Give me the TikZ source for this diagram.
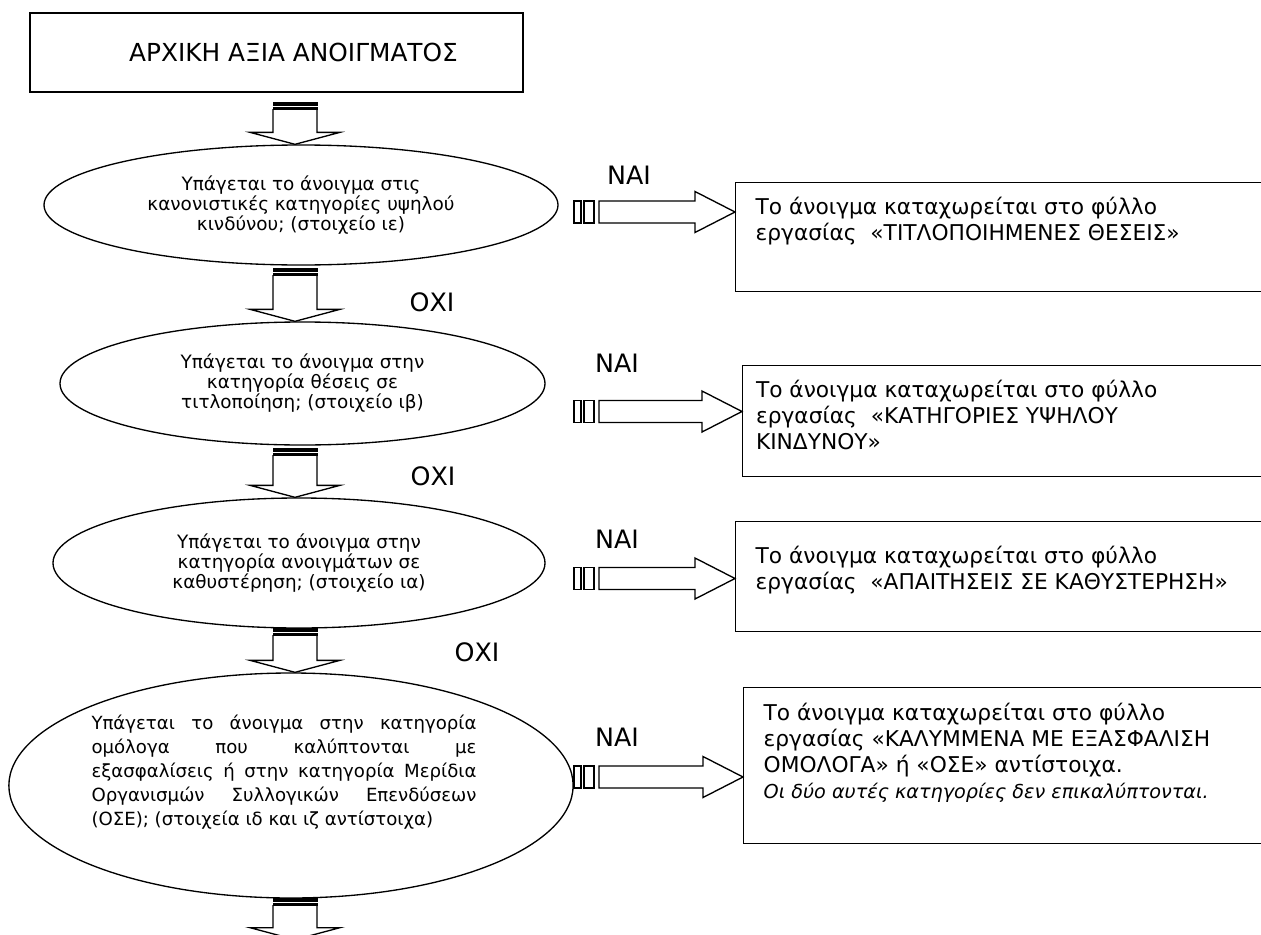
\documentclass[tikz,border=0pt]{standalone}
\usepackage{fontspec}
\setmainfont{DejaVu Sans}[ItalicFont={DejaVu Sans Oblique}]
\usetikzlibrary{calc,shapes.geometric}

\newcommand{\titlefont}{\fontsize{18.6}{22}\selectfont}
\newcommand{\tagfont}{\fontsize{19}{22}\selectfont}
\newcommand{\askfont}{\fontsize{13.8}{15}\selectfont}
\newcommand{\bigaskfont}{\fontsize{13.6}{18}\selectfont\hyphenpenalty=10000}
\newcommand{\boxfont}{\fontsize{16.3}{19.5}\selectfont}

% striped block arrow pointing down: #1 top of stem, #2 tip
\newcommand{\downblock}[2]{%
  \draw[blockline] ($(#1)+(-22,6.5)$) -- ($(#2)+(-22,-12)$) -- ($(#2)+(-45,-12)$) -- (#2)
    -- ($(#2)+(45,-12)$) -- ($(#2)+(22,-12)$) -- ($(#1)+(22,6.5)$);
  \filldraw[blockline,fill=black,line width=0.4pt] ($(#1)+(-22,0)$) rectangle ($(#1)+(22,3)$);
  \filldraw[blockline,fill=black,line width=0.4pt] ($(#1)+(-22,4.6)$) rectangle ($(#1)+(22,6.5)$);
}
% striped block arrow pointing right: #1 tail (centre line), #2 tip
\newcommand{\rightblock}[2]{%
  \draw[blockline] ($(#1)+(0,-11)$) rectangle ($(#1)+(7,11)$);
  \draw[blockline] ($(#1)+(10,-11)$) rectangle ($(#1)+(20,11)$);
  \draw[blockline] ($(#1)+(25,-11)$) -- ($(#2)+(-40,-11)$) -- ($(#2)+(-40,-20.5)$) -- (#2)
    -- ($(#2)+(-40,20.5)$) -- ($(#2)+(-40,11)$) -- ($(#1)+(25,11)$) -- cycle;
}

\begin{document}
\begin{tikzpicture}[x=0.75pt,y=-0.75pt,
    blockline/.style={draw=black,line width=1pt},
    startbox/.style={draw=black,line width=1pt,minimum width=369.75pt,minimum height=59.25pt,font=\titlefont},
    question/.style={ellipse,draw=black,line width=1pt,inner sep=0pt,align=center,font=\askfont},
    outbox/.style={draw=black,line width=1pt,anchor=north west,inner xsep=15pt,font=\boxfont},
    answer/.style={font=\tagfont,inner sep=0pt}]
  \useasboundingbox (0,0) rectangle (1261,935);
  \clip (0,0) rectangle (1261,935);

  \node[startbox] (top) at (276.5,52.5) {\hspace*{25.5pt}ΑΡΧΙΚΗ ΑΞΙΑ ΑΝΟΙΓΜΑΤΟΣ};

  \node[question,minimum width=385.5pt,minimum height=90pt] (e1) at (301,205)
    {Υπάγεται το άνοιγμα στις\\κανονιστικές κατηγορίες υψηλού\\κινδύνου; (στοιχείο ιε)};
  \node[question,minimum width=363.75pt,minimum height=92.25pt] (e2) at (302.5,383.5)
    {Υπάγεται το άνοιγμα στην\\κατηγορία θέσεις σε\\τιτλοποίηση; (στοιχείο ιβ)};
  \node[question,minimum width=369pt,minimum height=97.5pt] (e3) at (299,563)
    {Υπάγεται το άνοιγμα στην\\κατηγορία ανοιγμάτων σε\\καθυστέρηση; (στοιχείο ια)};
  \node[question,minimum width=423pt,minimum height=168.75pt,text width=299.25pt,
    align=justify,font=\bigaskfont] (e4) at (291,785.5)
    {\rightskip=10.5pt Υπάγεται το άνοιγμα στην κατηγορία\linebreak ομόλογα που καλύπτονται με\linebreak
     εξασφαλίσεις ή στην κατηγορία Μερίδια\linebreak Οργανισμών Συλλογικών Επενδύσεων\linebreak
     (ΟΣΕ); (στοιχεία ιδ και ιζ αντίστοιχα)\par\kern19.5pt};

  \node[outbox,inner ysep=10.7pt] (b1) at (735,182)
    {\parbox[t][60.35pt][t]{375pt}{Το άνοιγμα καταχωρείται στο φύλλο\\εργασίας~ «ΤΙΤΛΟΠΟΙΗΜΕΝΕΣ ΘΕΣΕΙΣ»}};
  \node[outbox,inner ysep=10.7pt,inner xsep=10pt] (b2) at (742,365)
    {\parbox[t][61.85pt][t]{375pt}{Το άνοιγμα καταχωρείται στο φύλλο\\εργασίας~ «ΚΑΤΗΓΟΡΙΕΣ ΥΨΗΛΟΥ\\ΚΙΝΔΥΝΟΥ»}};
  \node[outbox,inner ysep=18.2pt] (b3) at (735,521)
    {\parbox[t][46.1pt][t]{375pt}{Το άνοιγμα καταχωρείται στο φύλλο\\εργασίας~ «ΑΠΑΙΤΗΣΕΙΣ ΣΕ ΚΑΘΥΣΤΕΡΗΣΗ»}};
  \node[outbox,inner ysep=11.5pt] (b4) at (743,687)
    {\parbox[t][94pt][t]{375pt}{Το άνοιγμα καταχωρείται στο φύλλο\\εργασίας «ΚΑΛΥΜΜΕΝΑ ΜΕ ΕΞΑΣΦΑΛΙΣΗ\\ΟΜΟΛΟΓΑ» ή «ΟΣΕ» αντίστοιχα.\\{\itshape\fontsize{14.4}{19.5}\selectfont Οι δύο αυτές κατηγορίες δεν επικαλύπτονται.}}};

  \node[answer] (nai1) at (629,175) {ΝΑΙ};
  \node[answer] (nai2) at (617,363) {ΝΑΙ};
  \node[answer] (nai3) at (617,539) {ΝΑΙ};
  \node[answer] (nai4) at (617,737) {ΝΑΙ};
  \node[answer] (oxi1) at (432,302) {ΟΧΙ};
  \node[answer] (oxi2) at (433,476) {ΟΧΙ};
  \node[answer] (oxi3) at (477,652) {ΟΧΙ};

  % downward arrows
  \coordinate (col) at (295,0);
  \coordinate (v1a) at ($(col |- top.south)+(0,10)$);
  \coordinate (v1b) at (col |- e1.north);
  \coordinate (v2a) at ($(col |- e1.south)+(0,3)$);
  \coordinate (v2b) at (col |- e2.north);
  \coordinate (v3a) at ($(col |- e2.south)+(0,3)$);
  \coordinate (v3b) at (col |- e3.north);
  \coordinate (v4a) at (col |- e3.south);
  \coordinate (v4b) at (col |- e4.north);
  \coordinate (v5a) at (col |- e4.south);
  \coordinate (v5b) at ($(v5a)+(0,41)$);
  \downblock{v1a}{v1b}
  \downblock{v2a}{v2b}
  \downblock{v3a}{v3b}
  \downblock{v4a}{v4b}
  \downblock{v5a}{v5b}

  % arrows to the sheets
  \coordinate (h1a) at (574,212);
  \coordinate (h2a) at (574,411.5);
  \coordinate (h3a) at (574,578.5);
  \coordinate (h4a) at (574,777);
  \rightblock{h1a}{h1a -| b1.west}
  \rightblock{h2a}{h2a -| b2.west}
  \rightblock{h3a}{h3a -| b3.west}
  \rightblock{h4a}{h4a -| b4.west}
\end{tikzpicture}
\end{document}
